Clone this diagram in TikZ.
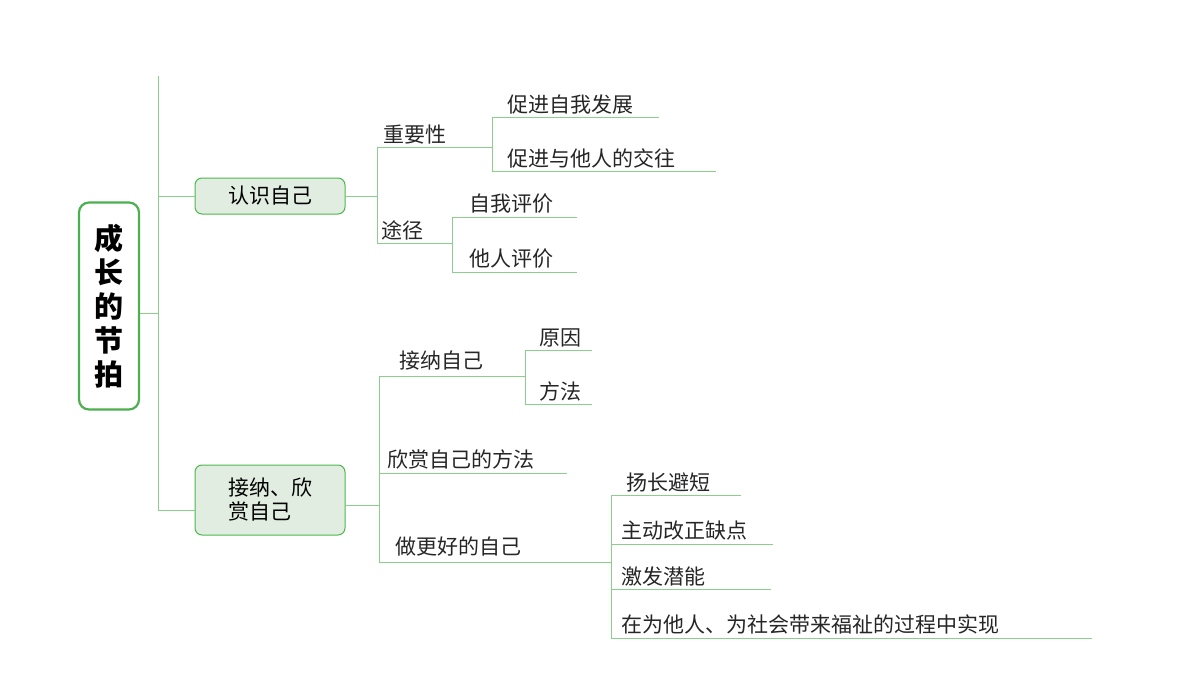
\documentclass[tikz,border=0pt]{standalone}
\usepackage{fontspec}
\setmainfont{Noto Sans CJK SC}
\begin{document}
\begin{tikzpicture}[x=1pt,y=-1pt,
  ln/.style={draw=green!55!black!45!white, line width=0.9pt},
  lbl/.style={anchor=south west, inner sep=0pt, font=\fontsize{21}{24}\selectfont, text=black!85},
  box/.style={draw=green!60!black!70, fill=green!40!black!15!white!80, line width=1pt, rounded corners=7pt, font=\fontsize{21}{24}\selectfont, align=left}]
\useasboundingbox (0,0) rectangle (1200,675);
\definecolor{lc}{HTML}{8CCF8C}
\tikzset{ln/.style={draw=lc, line width=0.9pt}}
\node[draw={rgb,255:red,76;green,175;blue,80}, line width=2.2pt, rounded corners=10pt, minimum width=60pt, minimum height=207pt, font=\bfseries\fontsize{29}{34}\selectfont, align=center] (root) at (109,306) {成\\长\\的\\节\\拍};
\node[box, minimum width=150pt, minimum height=36pt] (b1) at (270,196) {认识自己};
\node[box, minimum width=150pt, minimum height=70pt] (b2) at (270,500) {接纳、欣\\赏自己};
\coordinate (t) at (158,76); \coordinate (bt) at (158,510);
\draw[ln] (t) -- (bt);
\draw[ln] (root.east |- 0,313) -- (158,313);
\draw[ln] (158,196) -- (b1.west);
\draw[ln] (158,510) -- (b1.west |- 0,510);
% branch 1
\draw[ln] (b1.east) -- (377,196);
\draw[ln] (377,147) -- (377,243);
\draw[ln] (377,147) -- (492,147); \node[lbl] (n1) at (383,144) {重要性};
\draw[ln] (377,243) -- (452,243); \node[lbl] (n2) at (381,240) {途径};
\draw[ln] (492,117) -- (492,171);
\draw[ln] (492,117) -- (659,117); \node[lbl] (n3) at (507,114) {促进自我发展};
\draw[ln] (492,171) -- (716,171); \node[lbl] (n4) at (507,168) {促进与他人的交往};
\draw[ln] (452,217) -- (452,272);
\draw[ln] (452,217) -- (577,217); \node[lbl] (n5) at (469,214) {自我评价};
\draw[ln] (452,272) -- (577,272); \node[lbl] (n6) at (469,269) {他人评价};
% branch 2
\draw[ln] (b2.east |- 0,505) -- (379,505);
\draw[ln] (379,376) -- (379,562);
\draw[ln] (379,376) -- (525,376); \node[lbl] (m1) at (399,370) {接纳自己};
\draw[ln] (379,473) -- (567,473); \node[lbl] (m2) at (387,469) {欣赏自己的方法};
\draw[ln] (379,562) -- (611,562); \node[lbl] (m3) at (395,556) {做更好的自己};
\draw[ln] (525,350) -- (525,404);
\draw[ln] (525,350) -- (592,350); \node[lbl] (m4) at (539,347) {原因};
\draw[ln] (525,404) -- (592,404); \node[lbl] (m5) at (539,401) {方法};
\draw[ln] (611,495) -- (611,638);
\draw[ln] (611,495) -- (741,495); \node[lbl] (m6) at (626,492) {扬长避短};
\draw[ln] (611,544) -- (773,544); \node[lbl] (m7) at (621,540) {主动改正缺点};
\draw[ln] (611,589) -- (771,589); \node[lbl] (m8) at (621,586) {激发潜能};
\draw[ln] (611,638) -- (1092,638); \node[lbl] (m9) at (621,634) {在为他人、为社会带来福祉的过程中实现};
\end{tikzpicture}
\end{document}
